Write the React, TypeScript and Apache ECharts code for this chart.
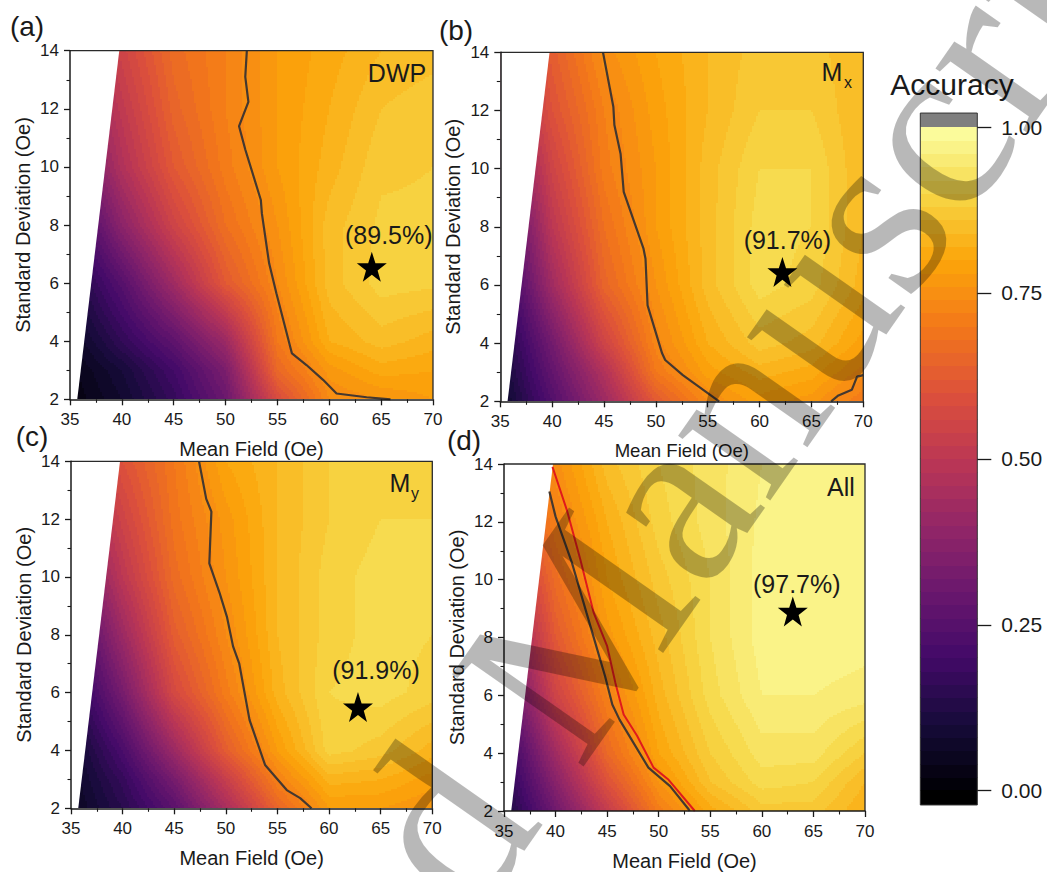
import React, { useEffect, useRef } from "react";
import * as echarts from "echarts";

const meanFields = [35, 40, 45, 50, 55, 60, 65, 70];
const deviations = [2, 3, 4, 6, 8, 10, 12, 14];
const xTickBounds = [35, 70];
const yTickBounds = [2, 14];

const accuracyDWP = [
  [0.02, 0.08, 0.17, 0.3, 0.58, 0.74, 0.76, 0.78],
  [0.03, 0.1, 0.2, 0.34, 0.66, 0.77, 0.81, 0.8],
  [0.05, 0.16, 0.27, 0.42, 0.7, 0.82, 0.85, 0.83],
  [0.1, 0.25, 0.43, 0.62, 0.74, 0.85, 0.89, 0.885],
  [0.17, 0.38, 0.55, 0.68, 0.76, 0.85, 0.885, 0.885],
  [0.27, 0.47, 0.62, 0.71, 0.78, 0.83, 0.875, 0.88],
  [0.35, 0.51, 0.65, 0.72, 0.78, 0.82, 0.86, 0.875],
  [0.42, 0.55, 0.67, 0.72, 0.78, 0.81, 0.84, 0.85],
];
const accuracyMx = [
  [0.06, 0.24, 0.42, 0.62, 0.74, 0.79, 0.77, 0.7],
  [0.08, 0.28, 0.47, 0.7, 0.79, 0.83, 0.81, 0.75],
  [0.1, 0.32, 0.55, 0.73, 0.82, 0.87, 0.85, 0.79],
  [0.15, 0.43, 0.65, 0.76, 0.85, 0.91, 0.89, 0.83],
  [0.2, 0.5, 0.68, 0.78, 0.85, 0.91, 0.9, 0.84],
  [0.3, 0.55, 0.71, 0.78, 0.85, 0.9, 0.9, 0.84],
  [0.4, 0.6, 0.72, 0.79, 0.84, 0.88, 0.88, 0.84],
  [0.45, 0.63, 0.75, 0.8, 0.84, 0.87, 0.87, 0.84],
];
const accuracyMy = [
  [0.05, 0.14, 0.26, 0.45, 0.65, 0.78, 0.78, 0.76],
  [0.06, 0.17, 0.33, 0.53, 0.72, 0.83, 0.82, 0.79],
  [0.07, 0.22, 0.42, 0.63, 0.78, 0.89, 0.87, 0.83],
  [0.13, 0.33, 0.57, 0.71, 0.83, 0.9, 0.91, 0.89],
  [0.2, 0.42, 0.63, 0.74, 0.84, 0.89, 0.91, 0.9],
  [0.3, 0.5, 0.67, 0.76, 0.84, 0.89, 0.91, 0.9],
  [0.4, 0.55, 0.69, 0.77, 0.84, 0.88, 0.9, 0.9],
  [0.45, 0.6, 0.7, 0.8, 0.84, 0.88, 0.9, 0.89],
];
const accuracyAll = [
  [0.1, 0.31, 0.52, 0.71, 0.81, 0.87, 0.87, 0.82],
  [0.13, 0.37, 0.6, 0.76, 0.86, 0.91, 0.9, 0.84],
  [0.16, 0.43, 0.66, 0.8, 0.88, 0.93, 0.93, 0.88],
  [0.25, 0.55, 0.72, 0.83, 0.91, 0.96, 0.96, 0.95],
  [0.35, 0.62, 0.77, 0.85, 0.92, 0.97, 0.975, 0.97],
  [0.45, 0.67, 0.8, 0.87, 0.92, 0.97, 0.975, 0.97],
  [0.55, 0.72, 0.82, 0.89, 0.93, 0.965, 0.975, 0.97],
  [0.6, 0.75, 0.85, 0.9, 0.93, 0.96, 0.97, 0.97],
];

const contourDWP = [[52.05, 14], [51.9, 13.1], [52.2, 12.24], [51.3, 11.4], [51.9, 10.6], [53.4, 8.86], [53.5, 8.4], [54.2, 6.68], [54.9, 5.65], [56.4, 3.58], [57.8, 3.18], [59.4, 2.67], [60.7, 2.2], [63.6, 2.07], [65.9, 2]];
const contourMx = [[44.9, 14], [45.9, 12.13], [46, 11.5], [46.6, 10.5], [46.9, 9.2], [48.8, 7.26], [49, 6.9], [49.2, 5.3], [50.6, 3.65], [50.9, 3.42], [52.6, 2.9], [55.9, 2.05], [56.1, 2]];
const contourMx2 = [[66.9, 2], [67.6, 2.2], [68.9, 2.4], [69.4, 2.85], [70, 2.9]];
const contourMy = [[47.4, 14], [48.1, 12.7], [48.6, 12.26], [48.4, 10.47], [49.4, 9.44], [50.1, 8.63], [50.7, 7.6], [51.3, 7], [52.3, 5.05], [53.8, 3.5], [55.9, 2.63], [57.2, 2.35], [58.3, 2]];
const contourAll = [[39.4, 13.05], [40, 12.18], [41.6, 10.57], [43, 8.85], [44.8, 6.66], [45.5, 5.68], [46.2, 5.16], [49, 3.5], [51.1, 2.86], [52.9, 2.06], [53, 2]];
const contourRed = [[39.7, 13.9], [41.1, 12.4], [42.4, 10.7], [43.7, 8.85], [45, 7.7], [45.8, 6.43], [46.6, 5.34], [47.9, 4.6], [49.5, 3.5], [50.9, 3.1], [53.5, 2]];
const wedge = [[35, 2], [35.7, 2], [39.75, 14], [35, 14]];

const bestPoints = [[64.1, 6.56], [62.2, 6.45], [62.8, 5.5], [63, 8.9]];
const bestLabels = ["(89.5%)", "(91.7%)", "(91.9%)", "(97.7%)"];
const panelLetters = ["(a)", "(b)", "(c)", "(d)"];
const inferno = ["#000004", "#160b39", "#420a68", "#6a176e", "#932667", "#bc3754", "#dd513a", "#f37819", "#fca50a", "#f6d746", "#fcffa4"];
const bandStep = 0.02;

const FONT = '"Liberation Sans"';
const STAR = "path://M50 0 L61.8 35.1 L98.9 35.1 L68.9 57.3 L79.4 92.7 L50 71 L20.6 92.7 L31.1 57.3 L1.1 35.1 L38.2 35.1 Z";

const hex = (c: string) => [1, 3, 5].map((i) => parseInt(c.slice(i, i + 2), 16));
const stopRgb = inferno.map(hex);
function colorOf(v: number) {
  const t = Math.max(0, Math.min(0.9999, v)) * (inferno.length - 1);
  const i = Math.floor(t);
  const f = t - i;
  const a = stopRgb[i];
  const b = stopRgb[i + 1];
  return `rgb(${[0, 1, 2].map((k) => Math.round(a[k] + (b[k] - a[k]) * f)).join(",")})`;
}
const bandOf = (v: number) => (Math.floor(v / bandStep) + 0.5) * bandStep;

const panels = [
  { grid: { left: 70, top: 50.7, width: 363, height: 348.6 }, z: accuracyDWP, lines: [contourDWP], nameSize: 20 },
  { grid: { left: 500.3, top: 52.3, width: 363, height: 349 }, z: accuracyMx, lines: [contourMx, contourMx2], nameSize: 18.6 },
  { grid: { left: 71, top: 461.3, width: 361.3, height: 347 }, z: accuracyMy, lines: [contourMy], nameSize: 20 },
  { grid: { left: 504, top: 464, width: 361, height: 347.7 }, z: accuracyAll, lines: [contourAll], nameSize: 20 },
];
const labelOffsets = [[17, -32], [5, -32], [18, -37], [4, -27]];

function cellItem(_: any, api: any) {
  const [x0, y0, x1, y1, a, b, c, d] = [0, 1, 2, 3, 4, 5, 6, 7].map((i) => api.value(i));
  const p0 = api.coord([x0, y0]);
  const p1 = api.coord([x1, y1]);
  const left = Math.round(p0[0]);
  const right = Math.round(p1[0]);
  const top = Math.round(p1[1]);
  const bottom = Math.round(p0[1]);
  const children: any[] = [];
  const step = 2;
  for (let py = top; py < bottom; py += step) {
    const h = Math.min(step, bottom - py);
    const ty = (p0[1] - (py + h / 2)) / (p0[1] - p1[1]);
    let runStart = left;
    let runBand = NaN;
    for (let px = left; px < right; px += step) {
      const w = Math.min(step, right - px);
      const tx = (px + w / 2 - p0[0]) / (p1[0] - p0[0]);
      const v = (a * (1 - tx) + b * tx) * (1 - ty) + (c * (1 - tx) + d * tx) * ty;
      const band = bandOf(v);
      if (band !== runBand) {
        if (!Number.isNaN(runBand)) {
          children.push({
            type: "rect",
            shape: { x: runStart, y: py, width: px - runStart, height: h },
            style: { fill: colorOf(runBand) },
          });
        }
        runStart = px;
        runBand = band;
      }
    }
    children.push({
      type: "rect",
      shape: { x: runStart, y: py, width: right - runStart, height: h },
      style: { fill: colorOf(runBand) },
    });
  }
  return { type: "group", children };
}

function buildCells(z: number[][]) {
  const out: number[][] = [];
  for (let j = 0; j < deviations.length - 1; j++) {
    for (let i = 0; i < meanFields.length - 1; i++) {
      out.push([meanFields[i], deviations[j], meanFields[i + 1], deviations[j + 1], z[j][i], z[j][i + 1], z[j + 1][i], z[j + 1][i + 1]]);
    }
  }
  return out;
}

function polygonItem(params: any, api: any) {
  if (params.dataIndex !== 0) return null;
  const pts = wedge.map((p) => api.coord(p));
  return { type: "polygon", shape: { points: pts }, style: { fill: "#ffffff" } };
}

function frameItem(params: any, api: any) {
  if (params.dataIndex !== 0) return null;
  const a = api.coord([xTickBounds[0], yTickBounds[1]]);
  const b = api.coord([xTickBounds[1], yTickBounds[1]]);
  const c = api.coord([xTickBounds[1], yTickBounds[0]]);
  return { type: "polyline", shape: { points: [a, b, c] }, style: { stroke: "#2a2a2a", lineWidth: 1.3, fill: "none" } };
}

function barItem(params: any, api: any) {
  const lo = api.value(0);
  const hi = api.value(1);
  const p0 = api.coord([0, lo]);
  const p1 = api.coord([1, hi]);
  return {
    type: "rect",
    shape: { x: p0[0], y: Math.floor(p1[1]), width: p1[0] - p0[0], height: Math.ceil(p0[1]) - Math.floor(p1[1]) },
    style: { fill: api.value(2) },
  };
}

function App() {
  const ref = useRef<HTMLDivElement>(null);
  useEffect(() => {
    document.body.style.margin = "0";
    const chart = echarts.init(ref.current!, null, { renderer: "svg" });
    const grid: any[] = panels.map((p) => ({ ...p.grid, containLabel: false }));
    grid.push({ left: 920.3, top: 127, width: 57, height: 663.7 });
    const axisBase = {
      axisLine: { show: true, onZero: false, lineStyle: { color: "#1a1a1a", width: 1.5 } },
      axisTick: { show: true, length: 6, lineStyle: { color: "#1a1a1a", width: 1.3 } },
      minorTick: { show: true, splitNumber: 2, length: 3.5, lineStyle: { color: "#1a1a1a", width: 1.1 } },
      splitLine: { show: false },
      z: 6,
    };
    const xAxis: any[] = panels.map((p, i) => ({
      ...axisBase,
      type: "value",
      gridIndex: i,
      min: 35,
      max: 70,
      interval: 5,
      name: "Mean Field (Oe)",
      nameLocation: "middle",
      nameGap: 40,
      nameTextStyle: { fontFamily: FONT, fontSize: p.nameSize, color: "#1a1a1a" },
      axisLabel: { fontFamily: FONT, fontSize: 17, color: "#1a1a1a", margin: 12 },
    }));
    const yAxis: any[] = panels.map((p, i) => ({
      ...axisBase,
      type: "value",
      gridIndex: i,
      min: 2,
      max: 14,
      interval: 2,
      name: "Standard Deviation (Oe)",
      nameLocation: "middle",
      nameGap: 37,
      nameTextStyle: { fontFamily: FONT, fontSize: 20, color: "#1a1a1a" },
      axisLabel: { fontFamily: FONT, fontSize: 17, color: "#1a1a1a", margin: 11 },
    }));
    xAxis.push({ type: "value", gridIndex: 4, min: 0, max: 1, show: false });
    yAxis.push({
      type: "value",
      gridIndex: 4,
      position: "right",
      min: 0,
      max: 1,
      interval: 0.25,
      axisLine: { show: false, onZero: false },
      axisTick: { show: true, length: 14, lineStyle: { color: "#1a1a1a", width: 1.3 } },
      splitLine: { show: false },
      axisLabel: { fontFamily: FONT, fontSize: 21, color: "#1a1a1a", margin: 24, formatter: (v: number) => v.toFixed(2) },
      z: 6,
    });

    const series: any[] = [];
    panels.forEach((p, i) => {
      series.push({
        type: "custom",
        xAxisIndex: i,
        yAxisIndex: i,
        silent: true,
        clip: false,
        z: 1,
        progressive: 0,
        renderItem: cellItem,
        data: buildCells(p.z),
      });
      series.push({ type: "custom", xAxisIndex: i, yAxisIndex: i, silent: true, z: 2, renderItem: polygonItem, data: [wedge[0]] });
      p.lines.forEach((line) => {
        series.push({
          type: "line",
          xAxisIndex: i,
          yAxisIndex: i,
          silent: true,
          z: 3,
          symbol: "none",
          data: line,
          lineStyle: { color: "#443830", width: 2.2 },
        });
      });
      if (i === 3) {
        series.push({
          type: "line",
          xAxisIndex: i,
          yAxisIndex: i,
          silent: true,
          z: 3,
          symbol: "none",
          data: contourRed,
          lineStyle: { color: "#e01a1c", width: 2 },
        });
      }
      series.push({
        type: "scatter",
        xAxisIndex: i,
        yAxisIndex: i,
        silent: true,
        z: 4,
        symbol: STAR,
        symbolSize: 30,
        itemStyle: { color: "#000", opacity: 1 },
        data: [bestPoints[i]],
        label: {
          show: true,
          position: "inside",
          offset: labelOffsets[i],
          formatter: bestLabels[i],
          fontFamily: FONT,
          fontSize: 25,
          color: "#1a1a1a",
          opacity: 1,
        },
      });
      series.push({ type: "custom", xAxisIndex: i, yAxisIndex: i, silent: true, z: 5, renderItem: frameItem, data: [wedge[0]] });
    });

    const bands: any[] = [];
    const n = Math.round(1 / bandStep);
    for (let k = 0; k < n; k++) bands.push([k * bandStep, (k + 1) * bandStep, colorOf((k + 0.5) * bandStep)]);
    bands.push([-0.0215, 0, "#000000"]);
    bands.push([1, 1.021, "#7f7f7f"]);
    series.push({ type: "custom", xAxisIndex: 4, yAxisIndex: 4, silent: true, clip: false, z: 1, renderItem: barItem, data: bands });
    series.push({
      type: "custom",
      xAxisIndex: 4,
      yAxisIndex: 4,
      silent: true,
      clip: false,
      z: 2,
      data: [[0]],
      renderItem: (_: any, api: any) => {
        const a = api.coord([0, 1.021]);
        const b = api.coord([1, -0.0215]);
        return {
          type: "rect",
          shape: { x: a[0], y: a[1], width: b[0] - a[0], height: b[1] - a[1] },
          style: { fill: "none", stroke: "#333", lineWidth: 1 },
        };
      },
    });

    const text = (t: string, x: number, y: number, size: number, align = "left") => ({
      type: "text",
      x,
      y,
      z: 20,
      style: { text: t, fill: "#1a1a1a", font: `${size}px ${FONT}`, textAlign: align, textVerticalAlign: "middle" },
    });
    const angle = (55 * Math.PI) / 180;
    const watermark = (t: string, align: string) => ({
      type: "text",
      x: 512,
      y: 725,
      rotation: angle,
      z: 100,
      silent: true,
      style: {
        text: t,
        fill: "rgba(0,0,0,0.28)",
        font: '245px "Liberation Serif"',
        textAlign: align,
        textVerticalAlign: "middle",
      },
    });
    const graphic: any[] = [
      text(panelLetters[0], 27, 26, 28, "center"),
      text(panelLetters[1], 456, 30, 28, "center"),
      text(panelLetters[2], 32, 436, 28, "center"),
      text(panelLetters[3], 464, 440, 28, "center"),
      text("DWP", 397, 73, 25, "center"),
      text("M", 832, 72, 25, "center"),
      text("x", 848, 82, 16, "center"),
      text("M", 400, 483, 25, "center"),
      text("y", 415, 493, 16, "center"),
      text("All", 841, 487, 25, "center"),
      text("Accuracy", 952, 84, 30, "center"),
      watermark("Manuscript", "left"),
      watermark("Accepted ", "right"),
    ];

    chart.setOption({ animation: false, backgroundColor: "#ffffff", grid, xAxis, yAxis, series, graphic });
    return () => chart.dispose();
  }, []);
  return <div ref={ref} style={{ width: 1047, height: 872 }} />;
}

export default App;
